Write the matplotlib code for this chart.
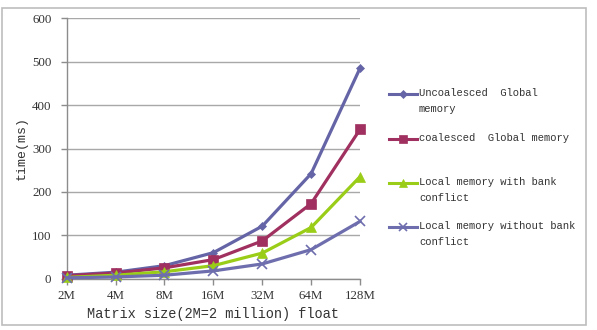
import matplotlib
matplotlib.use('Agg')
import matplotlib.pyplot as plt
from matplotlib.lines import Line2D
from matplotlib.patches import Rectangle

sizes = ['2M', '4M', '8M', '16M', '32M', '64M', '128M']
uncoalesced = [8, 15, 30, 60, 121, 242, 485]
coalesced = [7, 13, 25, 44, 87, 173, 344]
local_conflict = [3, 8, 16, 30, 59, 118, 235]
local_no_conflict = [2, 4, 8, 18, 34, 67, 132]

labels = ['Uncoalesced  Global\nmemory',
          'coalesced  Global memory',
          'Local memory with bank\nconflict',
          'Local memory without bank\nconflict']
series = [uncoalesced, coalesced, local_conflict, local_no_conflict]
colors = ['#6464A6', '#A0305F', '#9ACD18', '#6E6EAE']
markers = ['D', 's', '^', 'x']
msizes = [4.5, 6.5, 6.5, 6.5]

W, H = 597, 330
fig = plt.figure(figsize=(W / 100, H / 100), dpi=100)
fig.patch.set_facecolor('white')

# outer chart border
fig.add_artist(Rectangle((1.5 / W, 1 - 325 / H), 584.5 / W, 317 / H,
                         transform=fig.transFigure, fill=False,
                         edgecolor='#BDBDBD', linewidth=1.2))

ax = fig.add_axes([66.7 / W, 1 - 278.7 / H, (360 - 66.7) / W, (278.7 - 18.3) / H])
x = list(range(len(sizes)))
for ys, c, m, ms in zip(series, colors, markers, msizes):
    ax.plot(x, ys, color=c, marker=m, markersize=ms, linewidth=2.3,
            markeredgewidth=1.2 if m == 'x' else 0.5, markeredgecolor=c,
            clip_on=False, zorder=3)

ax.set_xlim(0, len(sizes) - 1)
ax.set_ylim(0, 600)
ax.set_yticks(range(0, 601, 100))
ax.set_xticks(x)
ax.set_xticklabels(sizes)
ax.yaxis.grid(True, color='#A8A8A8', linewidth=1)
ax.set_axisbelow(True)
for s in ['top', 'right']:
    ax.spines[s].set_visible(False)
for s in ['left', 'bottom']:
    ax.spines[s].set_color('#8C8C8C')
    ax.spines[s].set_linewidth(1)
ax.tick_params(axis='both', colors='#8C8C8C', length=4, width=1)
ax.tick_params(axis='y', pad=7)
ax.tick_params(axis='x', pad=4)
for lab in ax.get_xticklabels() + ax.get_yticklabels():
    lab.set_family('Liberation Serif')
    lab.set_fontsize(9.3)
    lab.set_color('#333333')

ax.set_ylabel('time(ms)', family='Liberation Mono', fontsize=9.5, color='#333333', labelpad=3)
ax.set_xlabel('Matrix size(2M=2 million) float', family='Liberation Mono', fontsize=9.8,
              color='#333333', labelpad=4)

# legend drawn at the right, handle aligned with first text line
entry_y = [94, 139, 183, 227]
for ys, c, m, ms, lab, ey in zip(series, colors, markers, msizes, labels, entry_y):
    fy = 1 - ey / H
    fig.add_artist(Line2D([389 / W, 417 / W], [fy, fy], transform=fig.transFigure,
                          color=c, linewidth=2.2))
    fig.add_artist(Line2D([403 / W], [fy], transform=fig.transFigure, color=c,
                          marker=m, markersize=ms * 0.85, markeredgecolor=c,
                          markeredgewidth=1.2 if m == 'x' else 0.5))
    fig.text(419 / W, 1 - (ey - 6) / H, lab, family='Liberation Mono', fontsize=7.6,
             color='#333333', va='top', ha='left', linespacing=1.75)

fig.savefig('out.png', dpi=100)
